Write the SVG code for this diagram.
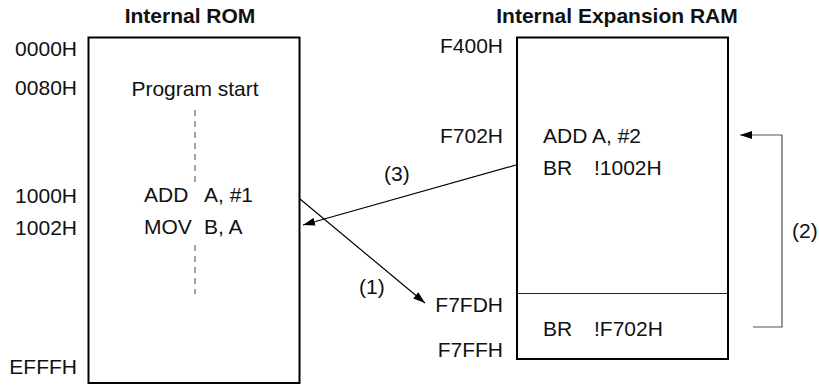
<svg xmlns="http://www.w3.org/2000/svg" width="819" height="385" viewBox="0 0 819 385">
<style>
text{font-family:"Liberation Sans",Arial,sans-serif;font-size:21px;fill:#111}
.t{font-weight:bold}
.r{text-anchor:end}
.m{text-anchor:middle}
.box{fill:#fff;stroke:#000;stroke-width:2}
.div{stroke:#222;stroke-width:1.2}
.dash{stroke:#666;stroke-width:1.2;stroke-dasharray:6 5}
.con{fill:none;stroke:#000;stroke-width:1.2}
.br{fill:none;stroke:#555;stroke-width:1.2}
</style>
<defs>
<marker id="ah" viewBox="0 0 12 8" refX="12" refY="4" markerWidth="12" markerHeight="8" markerUnits="userSpaceOnUse" orient="auto">
<path d="M0,0 L12,4 L0,8 Z" fill="#000"/>
</marker>
</defs>
<g id="rom">
<text class="t m" x="190" y="23">Internal ROM</text>
<rect class="box" x="88.5" y="37.5" width="211" height="345.5"/>
<text class="r" x="77" y="56">0000H</text>
<text class="r" x="77" y="95">0080H</text>
<text class="r" x="77" y="203">1000H</text>
<text class="r" x="77" y="235">1002H</text>
<text class="r" x="77" y="374">EFFFH</text>
<text class="m" x="195" y="96">Program start</text>
<line class="dash" x1="195" y1="110" x2="195" y2="182"/>
<text x="144" y="202">ADD</text>
<text x="204" y="202">A, #1</text>
<text x="144" y="234">MOV</text>
<text x="204" y="234">B, A</text>
<line class="dash" x1="195" y1="245" x2="195" y2="294"/>
</g>
<g id="ram">
<text class="t m" x="617" y="23">Internal Expansion RAM</text>
<rect class="box" x="517" y="37.5" width="211" height="321.5"/>
<line class="div" x1="517" y1="293.5" x2="728" y2="293.5"/>
<text class="r" x="503" y="53">F400H</text>
<text class="r" x="503" y="143">F702H</text>
<text class="r" x="503" y="312">F7FDH</text>
<text class="r" x="503" y="357">F7FFH</text>
<text x="543" y="143">ADD A, #2</text>
<text x="543" y="175">BR</text>
<text x="594" y="175">!1002H</text>
<text x="543" y="336">BR</text>
<text x="594" y="336">!F702H</text>
</g>
<g id="connectors">
<line class="con" x1="300" y1="199" x2="425" y2="303" marker-end="url(#ah)"/>
<text x="359" y="294">(1)</text>
<line class="con" x1="516" y1="165" x2="303" y2="225" marker-end="url(#ah)"/>
<text x="384" y="181">(3)</text>
<polyline class="br" points="753,327 782,327 782,135 740,135" marker-end="url(#ah)"/>
<text x="792" y="238">(2)</text>
</g>
</svg>
